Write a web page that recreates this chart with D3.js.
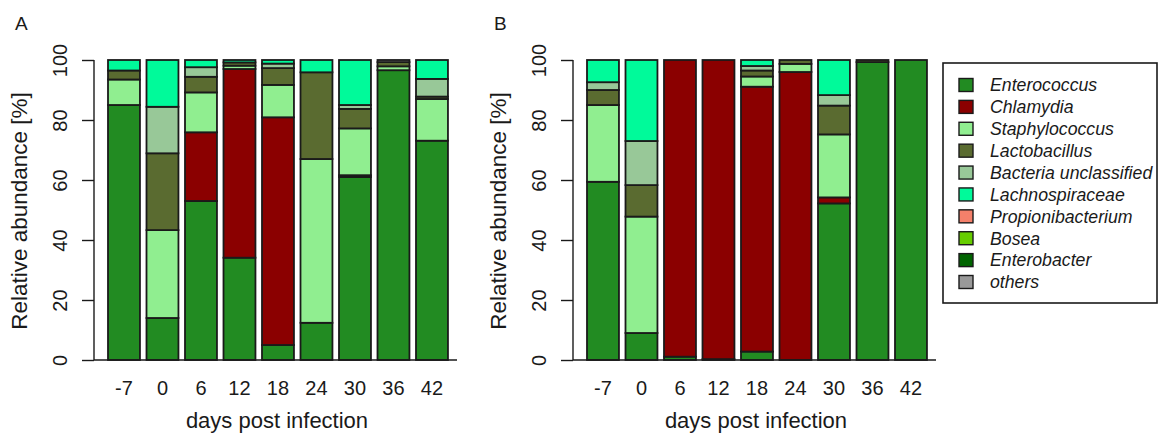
<!DOCTYPE html>
<html>
<head>
<meta charset="utf-8">
<script src="https://cdn.jsdelivr.net/npm/d3@7"></script>
<style>
  html, body { margin: 0; padding: 0; background: #fff; }
  svg { display: block; font-family: "Liberation Sans", Arial, sans-serif; }
</style>
</head>
<body>
<svg id="chart" width="1159" height="435"></svg>
<script>
// ---- data ----
const days = ["-7", "0", "6", "12", "18", "24", "30", "36", "42"];
const taxa = ["Enterococcus", "Chlamydia", "Staphylococcus", "Lactobacillus",
  "Bacteria unclassified", "Lachnospiraceae", "Propionibacterium", "Bosea",
  "Enterobacter", "others"];
const taxaColors = ["#228B22", "#8B0000", "#90EE90", "#5A6B30", "#98C898",
  "#00FA9A", "#F4806A", "#66CD00", "#006400", "#999999"];
const yTicks = [0, 20, 40, 60, 80, 100];

// Panel A (percent per day)
const aEnterococcus   = [85, 14, 53, 34.1, 5, 12.4, 61, 96.6, 73.1];
const aChlamydia      = [0, 0, 22.9, 62.9, 75.9, 0, 0.6, 0, 0];
const aStaphylococcus = [8.5, 29.3, 13.3, 1.1, 10.8, 54.6, 15.6, 1.3, 13.9];
const aLactobacillus  = [3, 25.6, 5.2, 1.1, 5.6, 28.9, 6.5, 1.4, 0.8];
const aBacteriaUncl   = [0, 15.5, 3.2, 0, 1.5, 0, 1.3, 0, 5.9];
const aLachnospiraceae= [3.5, 15.6, 2.4, 0.8, 1.2, 4.1, 15, 0, 6.3];
const aPropioni       = [0, 0, 0, 0, 0, 0, 0, 0, 0];
const aBosea          = [0, 0, 0, 0, 0, 0, 0, 0, 0];
const aEnterobacter   = [0, 0, 0, 0, 0, 0, 0, 0, 0];
const aOthers         = [0, 0, 0, 0, 0, 0, 0, 0.7, 0];

// Panel B (percent per day)
const bEnterococcus   = [59.4, 9, 1.1, 0.3, 2.8, 0, 52.2, 99.3, 100];
const bChlamydia      = [0, 0, 98.9, 99.7, 88.3, 96, 2, 0, 0];
const bStaphylococcus = [25.6, 38.8, 0, 0, 3.4, 2.7, 21, 0, 0];
const bLactobacillus  = [5, 10.5, 0, 0, 2, 1.3, 9.6, 0.7, 0];
const bBacteriaUncl   = [2.6, 14.7, 0, 0, 1.5, 0, 3.5, 0, 0];
const bLachnospiraceae= [7.4, 27, 0, 0, 2, 0, 11.7, 0, 0];
const bPropioni       = [0, 0, 0, 0, 0, 0, 0, 0, 0];
const bBosea          = [0, 0, 0, 0, 0, 0, 0, 0, 0];
const bEnterobacter   = [0, 0, 0, 0, 0, 0, 0, 0, 0];
const bOthers         = [0, 0, 0, 0, 0, 0, 0, 0, 0];

const seriesA = [aEnterococcus, aChlamydia, aStaphylococcus, aLactobacillus, aBacteriaUncl,
  aLachnospiraceae, aPropioni, aBosea, aEnterobacter, aOthers];
const seriesB = [bEnterococcus, bChlamydia, bStaphylococcus, bLactobacillus, bBacteriaUncl,
  bLachnospiraceae, bPropioni, bBosea, bEnterobacter, bOthers];

// ---- drawing ----
const svg = d3.select("#chart");
const ink = "#1a1a1a";
const color = d3.scaleOrdinal().domain(taxa).range(taxaColors);

function panel(series, offsetX, letter) {
  const g = svg.append("g").attr("transform", `translate(${offsetX},0)`);
  const axisX = 94;
  const y = d3.scaleLinear().domain([0, 100]).range([360, 60]);
  const step = 38.5, pad = 0.17;
  const x0 = 108 - step * pad / 2;
  const x = d3.scaleBand().domain(days).range([x0, x0 + step * days.length])
    .paddingInner(pad).paddingOuter(pad / 2);

  const rows = days.map((d, i) => {
    const r = { day: d };
    taxa.forEach((t, k) => r[t] = series[k][i]);
    return r;
  });
  const stacked = d3.stack().keys(taxa)(rows);

  stacked.forEach(layer => {
    g.append("g").selectAll("rect")
      .data(layer.filter(s => s[1] - s[0] > 0))
      .join("rect")
      .attr("x", s => x(s.data.day))
      .attr("width", x.bandwidth())
      .attr("y", s => y(s[1]))
      .attr("height", s => y(s[0]) - y(s[1]))
      .attr("fill", color(layer.key))
      .attr("stroke", ink)
      .attr("stroke-width", 1.8);
  });

  // y axis
  const ya = g.append("g").attr("transform", `translate(${axisX},0)`)
    .call(d3.axisLeft(y).tickValues(yTicks).tickSize(12).tickFormat(d3.format("d")));
  ya.select(".domain").attr("d", `M0,${y(0)}V${y(100)}`).attr("stroke", ink).attr("stroke-width", 1.4);
  ya.selectAll(".tick line").attr("stroke", ink).attr("stroke-width", 1.4);
  ya.selectAll(".tick text")
    .attr("x", null).attr("dy", null)
    .attr("transform", "translate(-27,0) rotate(-90)")
    .attr("text-anchor", "middle")
    .attr("fill", ink)
    .style("font-size", "20px");

  // x axis line + labels
  g.append("line").attr("x1", axisX).attr("x2", 457).attr("y1", 360).attr("y2", 360)
    .attr("stroke", ink).attr("stroke-width", 1.4);
  const xa = g.append("g").attr("transform", "translate(0,360)")
    .call(d3.axisBottom(x).tickSize(0).tickPadding(0));
  xa.select(".domain").remove();
  xa.selectAll(".tick text").attr("y", 35).attr("dy", null)
    .attr("fill", ink).style("font-size", "20px");

  g.append("text").attr("x", 277).attr("y", 428).attr("text-anchor", "middle")
    .attr("fill", ink).style("font-size", "22px").text("days post infection");
  g.append("text").attr("transform", "translate(27,211) rotate(-90)")
    .attr("text-anchor", "middle").attr("fill", ink).style("font-size", "22.5px")
    .text("Relative abundance [%]");
  g.append("text").attr("x", 15).attr("y", 30).attr("fill", ink)
    .style("font-size", "19px").text(letter);
}

panel(seriesA, 0, "A");
panel(seriesB, 479, "B");

// legend
const lg = svg.append("g");
lg.append("rect").attr("x", 943).attr("y", 63).attr("width", 214).attr("height", 240)
  .attr("fill", "#fff").attr("stroke", ink).attr("stroke-width", 1.6);
const ly = d3.scalePoint().domain(taxa).range([85, 282]);
taxa.forEach(t => {
  lg.append("rect").attr("x", 959).attr("y", ly(t) - 6.5).attr("width", 14).attr("height", 13)
    .attr("fill", color(t)).attr("stroke", ink).attr("stroke-width", 1.4);
  lg.append("text").attr("x", 990).attr("y", ly(t)).attr("dy", "0.36em")
    .attr("fill", ink).style("font-size", "17.7px").style("font-style", "italic").text(t);
});
</script>
</body>
</html>
